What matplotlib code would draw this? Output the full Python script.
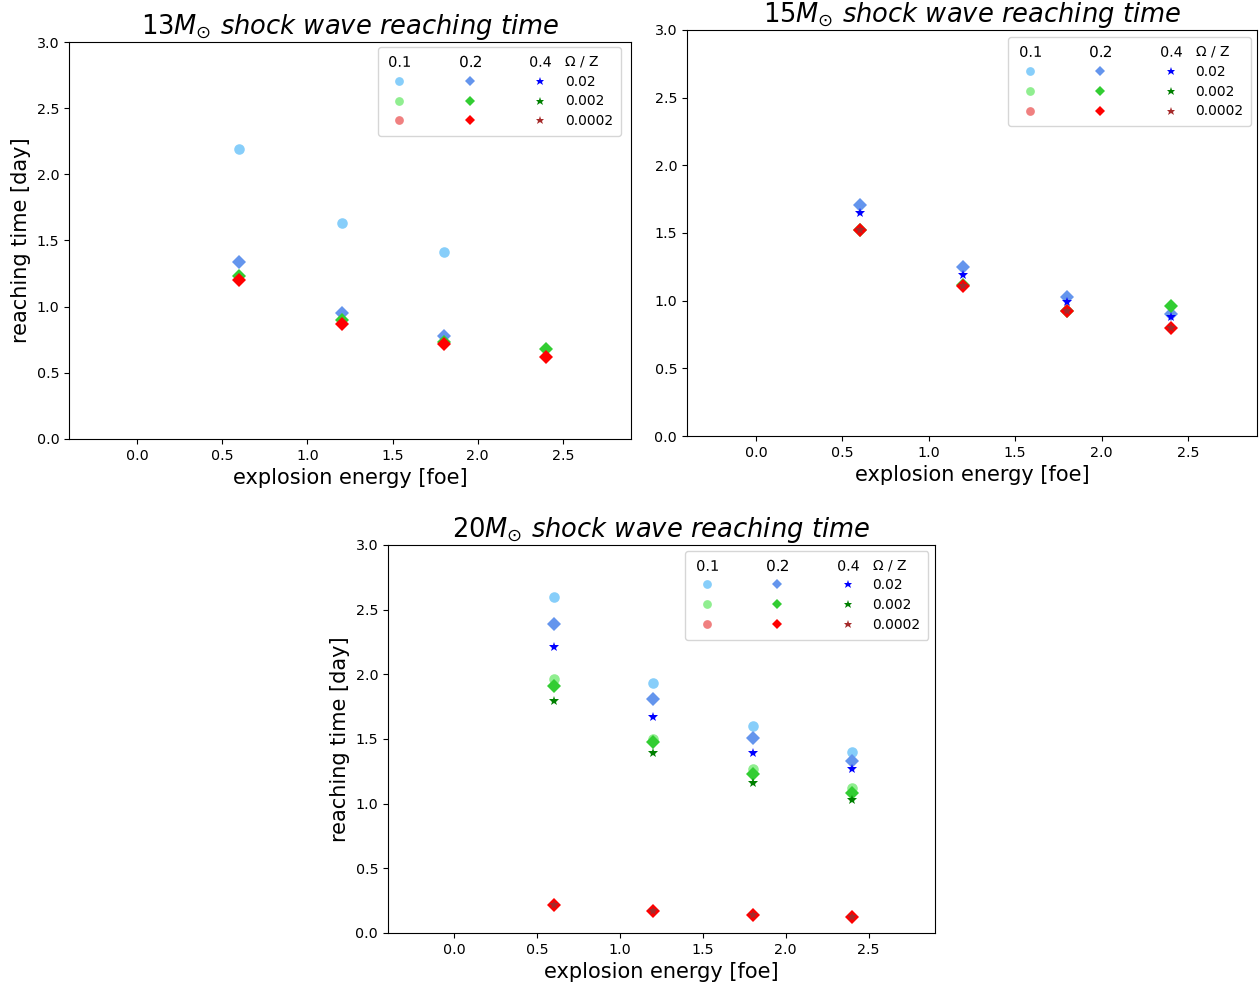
import matplotlib.pyplot as plt
from matplotlib.lines import Line2D

nan = float('nan')

# explosion energy [foe]
energy = [0.6, 1.2, 1.8, 2.4]

omega_labels = ['0.1', '0.2', '0.4']
z_labels = ['0.02', '0.002', '0.0002']

markers = ['o', 'D', '*']
colors = [['lightskyblue', 'lightgreen', 'lightcoral'],
          ['cornflowerblue', 'limegreen', 'red'],
          ['blue', 'green', 'brown']]

# reaching time [day]; rows = Z (0.02, 0.002, 0.0002), nan = not shown
m13_o01 = [[2.19, 1.63, 1.41, nan],
           [nan, nan, nan, nan],
           [nan, nan, nan, nan]]
m13_o02 = [[1.34, 0.95, 0.78, nan],
           [1.23, 0.90, 0.73, 0.68],
           [1.20, 0.87, 0.72, 0.62]]
m13_o04 = [[nan, nan, nan, nan],
           [nan, nan, nan, nan],
           [nan, nan, nan, nan]]

m15_o01 = [[nan, nan, nan, nan],
           [nan, nan, nan, nan],
           [nan, nan, nan, nan]]
m15_o02 = [[1.71, 1.25, 1.03, 0.90],
           [1.52, 1.115, 0.92, 0.96],
           [1.52, 1.11, 0.92, 0.80]]
m15_o04 = [[1.65, 1.19, 0.99, 0.88],
           [nan, nan, nan, nan],
           [1.52, 1.11, 0.92, 0.80]]

m20_o01 = [[2.60, 1.93, 1.60, 1.40],
           [1.96, 1.50, 1.27, 1.12],
           [nan, nan, nan, nan]]
m20_o02 = [[2.39, 1.81, 1.51, 1.33],
           [1.91, 1.48, 1.23, 1.08],
           [0.22, 0.17, 0.14, 0.12]]
m20_o04 = [[2.21, 1.67, 1.39, 1.27],
           [1.79, 1.39, 1.16, 1.03],
           [0.22, 0.17, 0.14, 0.12]]

panels = [
    ('13', [m13_o01, m13_o02, m13_o04], [0.0548, 0.5548, 0.4460, 0.4026], True, (0.982, 0.987)),
    ('15', [m15_o01, m15_o02, m15_o04], [0.5452, 0.5578, 0.4524, 0.4118], False, (0.990, 0.982)),
    ('20', [m20_o01, m20_o02, m20_o04], [0.3079, 0.0538, 0.4341, 0.3935], True, (0.988, 0.985)),
]

fig = plt.figure(figsize=(12.6, 9.86), dpi=100)

for mass, data, pos, ylab, anchor in panels:
    ax = fig.add_axes(pos)
    for i in range(3):
        for j in range(3):
            ax.plot(energy, data[i][j], linestyle='none', marker=markers[i],
                    color=colors[i][j], markersize=7.6, markeredgewidth=0)
    ax.set_xlim(-0.4, 2.9)
    ax.set_ylim(0, 3.0)
    ax.set_xticks([0.0, 0.5, 1.0, 1.5, 2.0, 2.5])
    ax.set_yticks([0.0, 0.5, 1.0, 1.5, 2.0, 2.5, 3.0])
    ax.tick_params(labelsize=10.3)
    ax.set_xlabel('explosion energy [foe]', fontsize=15)
    if ylab:
        ax.set_ylabel('reaching time [day]', fontsize=15)
    ax.set_title(r'$' + mass + r'M_{\odot}$ $\mathit{shock\ wave\ reaching\ time}$',
                 fontsize=18.5)

    # table-like legend: header row with Omega values, last column with Z
    handles = []
    labels = []
    leg_ms = [6.3, 5.6, 6.3]
    for i in range(3):
        handles.append(Line2D([], [], linestyle='none', marker='$' + omega_labels[i] + '$',
                              color='black', markersize=15, markeredgewidth=0))
        labels.append('Ω / Z' if i == 2 else '')
        for j in range(3):
            handles.append(Line2D([], [], linestyle='none', marker=markers[i],
                                  color=colors[i][j], markersize=leg_ms[i], markeredgewidth=0))
            labels.append(z_labels[j] if i == 2 else '')
    ax.legend(handles, labels, ncol=3, loc='upper right', bbox_to_anchor=anchor,
              borderaxespad=0, fontsize=10, labelspacing=0.42, columnspacing=2.27,
              handletextpad=0.8, borderpad=0.55)

plt.savefig('out.png')
